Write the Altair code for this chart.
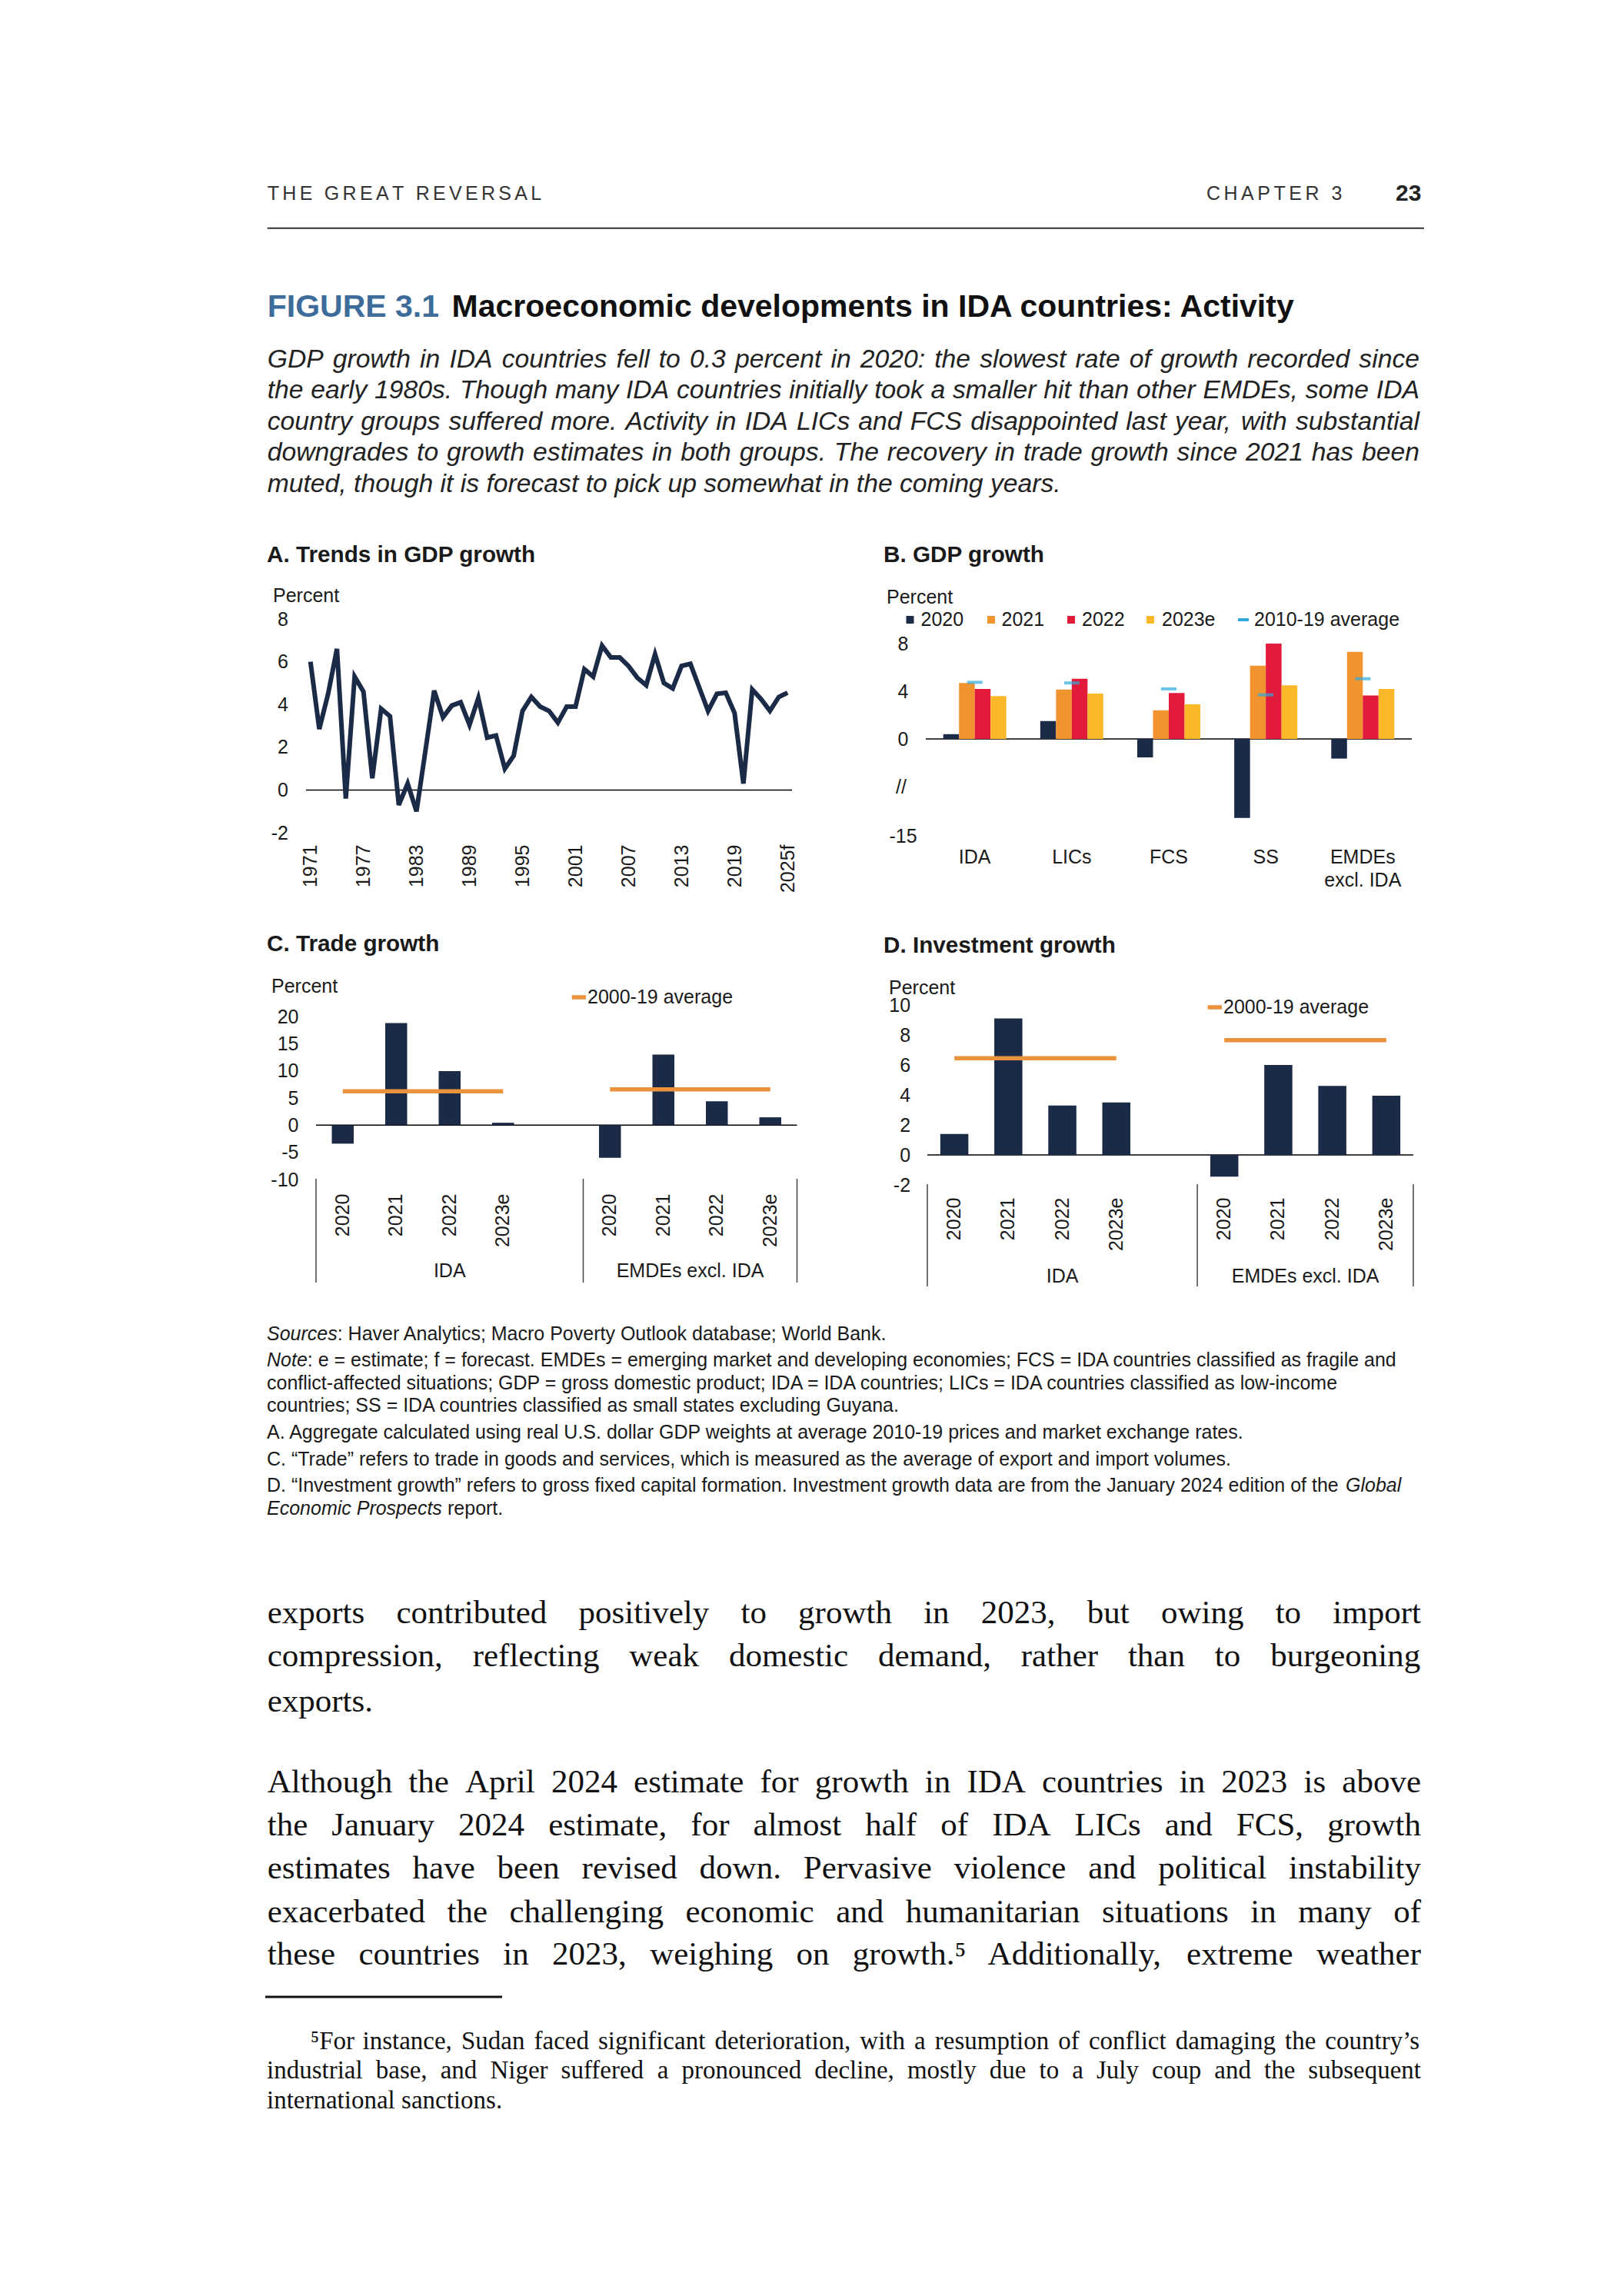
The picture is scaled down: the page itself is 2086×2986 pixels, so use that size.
import altair as alt
import pandas as pd

FONT = "Liberation Sans"
SERIF = "Liberation Serif"
NAVY = "#1b2a47"
AVG_ORANGE = "#eb923c"
CYAN = "#2fa9da"
TITLE_BLUE = "#3e6c9a"
TXT = "#1a1a1a"

# ---------------- Panel A data ----------------
years_a = [str(y) for y in range(1971, 2025)] + ["2025f"]
gdp_a = [6.0, 2.85, 4.5, 6.6, -0.4, 5.3, 4.6, 0.55, 3.8, 3.45,
         -0.7, 0.3, -1.0, 1.8, 4.65, 3.4, 3.95, 4.1, 3.05, 4.3,
         2.45, 2.55, 1.0, 1.6, 3.7, 4.35, 3.9, 3.7, 3.15, 3.9,
         3.9, 5.65, 5.3, 6.75, 6.2, 6.2, 5.8, 5.25, 4.9, 6.35,
         5.0, 4.75, 5.8, 5.9, 4.8, 3.7, 4.5, 4.55, 3.6, 0.3,
         4.7, 4.25, 3.7, 4.35, 4.55]
ticks_a = ["1971", "1977", "1983", "1989", "1995", "2001", "2007", "2013", "2019", "2025f"]
yticks_a = [-2, 0, 2, 4, 6, 8]

# ---------------- Panel B data ----------------
groups_b = ["IDA", "LICs", "FCS", "SS", "EMDEs excl. IDA"]
series_b = ["2020", "2021", "2022", "2023e"]
series_colors_b = [NAVY, "#f1932f", "#e31b3b", "#fbb829"]
gdp_2020 = [0.4, 1.5, -1.55, -13.5, -1.65]
gdp_2021 = [4.7, 4.15, 2.4, 6.15, 7.3]
gdp_2022 = [4.2, 5.05, 3.85, 8.0, 3.65]
gdp_2023e = [3.6, 3.8, 2.9, 4.5, 4.2]
avg_2010_19 = [4.75, 4.7, 4.2, 3.7, 5.05]
yticks_b = [-15, 0, 4, 8]

# ---------------- Panels C and D data ----------------
groups_cd = ["IDA", "EMDEs excl. IDA"]
years_cd = ["2020", "2021", "2022", "2023e"]
trade_ida = [-3.4, 18.8, 9.95, 0.45]
trade_emde = [-6.0, 13.0, 4.4, 1.45]
trade_avg_2000_19 = [6.25, 6.6]
inv_ida = [1.4, 9.1, 3.3, 3.5]
inv_emde = [-1.45, 6.0, 4.6, 3.95]
inv_avg_2000_19 = [6.45, 7.65]
yticks_c = [-10, -5, 0, 5, 10, 15, 20]
yticks_d = [-2, 0, 2, 4, 6, 8, 10]

# ---------------- page texts ----------------
subtitle_lines = [
    "GDP growth in IDA countries fell to 0.3 percent in 2020: the slowest rate of growth recorded since",
    "the early 1980s. Though many IDA countries initially took a smaller hit than other EMDEs, some IDA",
    "country groups suffered more. Activity in IDA LICs and FCS disappointed last year, with substantial",
    "downgrades to growth estimates in both groups. The recovery in trade growth since 2021 has been",
    "muted, though it is forecast to pick up somewhat in the coming years.",
]
subtitle_justify = [True, True, True, True, False]
body_lines = [
    "exports contributed positively to growth in 2023, but owing to import",
    "compression, reflecting weak domestic demand, rather than to burgeoning",
    "exports.",
    "Although the April 2024 estimate for growth in IDA countries in 2023 is above",
    "the January 2024 estimate, for almost half of IDA LICs and FCS, growth",
    "estimates have been revised down. Pervasive violence and political instability",
    "exacerbated the challenging economic and humanitarian situations in many of",
    "these countries in 2023, weighing on growth.\u2075 Additionally, extreme weather",
]
body_justify = [True, True, False, True, True, True, True, True]
footnote_lines = [
    "\u2075For instance, Sudan faced significant deterioration, with a resumption of conflict damaging the country\u2019s",
    "industrial base, and Niger suffered a pronounced decline, mostly due to a July coup and the subsequent",
    "international sanctions.",
]
footnote_justify = [True, True, False]

# ---------------- font metrics (Arial / Times compatible, per 1000 em) ----------------
SANS_W = {}
for chars, w in [("ABEKPSVXY", 667), ("CDHNRUw", 722), ("GOQ", 778), ("FTZ", 611),
                 ("I ft!,./:;", 278), ("Jckvxyzs", 500), ("Labdeghnopqu0123456789", 556),
                 ("Mm", 833), ("W", 944), ("ijl", 222), ("r-()", 333)]:
    for c in chars:
        SANS_W[c] = w
SERIF_W = {}
for chars, w in [("ADGHKNOQUVXYw", 722), ("BCR", 667), ("ELTZ", 611), ("FPS", 556),
                 ("Ifr-()\u2019!", 333), ("Js", 389), ("M", 889), ("W", 944), ("acez", 444),
                 ("bdghknopquvxy0123456789", 500), ("ijlt:;", 278), ("m", 778), (" ,.", 250),
                 ("\u2075", 300)]:
    for c in chars:
        SERIF_W[c] = w


def tw(s, table, size):
    return sum(table.get(c, 520) for c in s) * size / 1000.0


one = pd.DataFrame({"k": [0]})


def txt(s, x, y, size=25, weight="normal", style="normal", color=TXT, font=FONT,
        align="left", baseline="middle"):
    return alt.Chart(pd.DataFrame({"t": [s]})).mark_text(
        align=align, baseline=baseline, fontSize=size, fontWeight=weight,
        fontStyle=style, color=color, font=font
    ).encode(x=alt.value(x), y=alt.value(y), text=alt.Text("t:N"))


def text_block(lines, xs, ys, right, justify, size, table, font, style="normal",
               color="#111"):
    """Justified paragraph: one text item per word."""
    rows = []
    for line, x0, y, just in zip(lines, xs, ys, justify):
        words = line.split(" ")
        ww = [tw(w, table, size) for w in words]
        if just and len(words) > 1:
            gap = (right - x0 - sum(ww)) / (len(words) - 1)
        else:
            gap = table[" "] * size / 1000.0
        x = x0
        for w, wd in zip(words, ww):
            rows.append({"w": w, "x": x, "y": y})
            x += wd + gap
    return alt.Chart(pd.DataFrame(rows)).mark_text(
        align="left", baseline="middle", font=font, fontSize=size, fontStyle=style,
        color=color
    ).encode(x=alt.X("x:Q", scale=None, axis=None), y=alt.Y("y:Q", scale=None, axis=None),
             text="w:N")


def spaced(s, x0, y, size, spacing, color):
    """Letter-spaced caps (running head)."""
    rows, x = [], x0
    for c in s:
        rows.append({"c": c, "x": x, "y": y})
        x += tw(c, SANS_W, size) + spacing
    return alt.Chart(pd.DataFrame(rows)).mark_text(
        align="left", baseline="middle", font=FONT, fontSize=size, color=color
    ).encode(x=alt.X("x:Q", scale=None, axis=None), y=alt.Y("y:Q", scale=None, axis=None),
             text="c:N")


def box(x0, x1, y0, y1):
    return alt.Chart(one).mark_rect(opacity=0).encode(
        x=alt.value(x0), x2=alt.value(x1), y=alt.value(y0), y2=alt.value(y1))


def hline(x0, x1, y, w, color):
    return alt.Chart(one).mark_rule(strokeWidth=w, color=color).encode(
        x=alt.value(x0), x2=alt.value(x1), y=alt.value(y))


def yaxis(values, pad, align="right"):
    return alt.Axis(values=values, title=None, domain=False, ticks=False, tickSize=0,
                    grid=False, labelPadding=pad, labelAlign=align, labelFont=FONT,
                    labelFontSize=25, labelColor=TXT,
                    labelExpr="replace(datum.label, '\u2212', '-')")


# Column origin of the whole page = left edge of panel A plot (page x 398).
# ================= Panel A =================
dfA = pd.DataFrame({"year": years_a, "gdp": gdp_a})
scaleYA = alt.Scale(domain=[-2, 8], nice=False, zero=False)
yaxisA = yaxis(yticks_a, 23.5)
lineA = alt.Chart(dfA).mark_line(color=NAVY, strokeWidth=6).encode(
    x=alt.X("year:O", sort=years_a, scale=alt.Scale(type="point", padding=0.5),
            axis=alt.Axis(values=ticks_a, labelAngle=270, labelPadding=15, domain=False,
                          ticks=False, tickSize=0, grid=False, title=None, labelFont=FONT,
                          labelFontSize=25, labelColor=TXT)),
    y=alt.Y("gdp:Q", scale=scaleYA, axis=yaxisA),
)
zeroA = alt.Chart(one).mark_rule(color="#000", strokeWidth=1.5).encode(
    y=alt.YDatum(0, scale=scaleYA, axis=yaxisA))
panelA = alt.layer(
    box(-390, 697, -105, 395),
    txt("A. Trends in GDP growth", -51, -83, 29.7, "bold"),
    txt("Percent", -43, -30, 25),
    zeroA, lineA,
).properties(width=632, height=278)

# ================= Panel B =================
rowsB = []
for gi, g in enumerate(groups_b):
    for s, vals in zip(series_b, [gdp_2020, gdp_2021, gdp_2022, gdp_2023e]):
        rowsB.append({"group": g, "series": s, "v": vals[gi]})
dfB = pd.DataFrame(rowsB)
dfAvgB = pd.DataFrame({"group": groups_b, "avg": avg_2010_19})

HB = 282
# broken axis: values between -11 and -4 are collapsed onto the "//" mark
scaleYB = alt.Scale(domain=[-15, -11, -4, 8], range=[HB, 220, 218, 32], nice=False)
yaxisB = yaxis(yticks_b, 30, "center")
scaleXB = alt.Scale(domain=groups_b, paddingInner=0.35, paddingOuter=0.18)
xaxisB = alt.Axis(title=None, labelAngle=0, domain=False, ticks=False, tickSize=0,
                  labelPadding=15, labelFont=FONT, labelFontSize=25, labelColor=TXT,
                  labelLineHeight=30,
                  labelExpr="datum.label == 'EMDEs excl. IDA' ? ['EMDEs', 'excl. IDA'] : datum.label")
barsB = alt.Chart(dfB).mark_bar().encode(
    x=alt.X("group:N", sort=groups_b, scale=scaleXB, axis=xaxisB),
    xOffset=alt.XOffset("series:N", sort=series_b,
                        scale=alt.Scale(domain=series_b, paddingInner=0, paddingOuter=0)),
    y=alt.Y("v:Q", scale=scaleYB, axis=yaxisB),
    color=alt.Color("series:N", scale=alt.Scale(domain=series_b, range=series_colors_b),
                    legend=None),
)
avgB = alt.Chart(dfAvgB).mark_tick(color=CYAN, thickness=4, size=20).encode(
    x=alt.X("group:N", sort=groups_b, scale=scaleXB, axis=xaxisB),
    y=alt.Y("avg:Q", scale=scaleYB, axis=yaxisB),
)
zeroB = alt.Chart(one).mark_rule(color="#000", strokeWidth=1.5).encode(
    y=alt.YDatum(0, scale=scaleYB, axis=yaxisB))

leg_sq_x = [-20.5, 85, 189, 292]
leg_tx_x = [-6.5, 98.5, 203, 307]
legB = []
for i, s in enumerate(series_b):
    legB.append(alt.Chart(one).mark_square(size=100, color=series_colors_b[i], opacity=1).encode(
        x=alt.value(leg_sq_x[i]), y=alt.value(1)))
    legB.append(txt(s, leg_tx_x[i], 1, 25))
legB.append(hline(406, 420, 1, 4, CYAN))
legB.append(txt("2010-19 average", 427, 1, 25))

panelB = alt.layer(
    box(-109, 866, -105, 395),
    txt("B. GDP growth", -55, -83, 29.7, "bold"),
    txt("Percent", -51, -28, 25),
    txt("//", -32, 219, 25, align="center"),
    *legB,
    zeroB, barsB, avgB,
).properties(width=632, height=HB)


# ================= Panels C & D =================
def group_panel(ida_vals, emde_vals, avgs, width, height, x_range, y_range, ydom, yvals,
                pad_inner, ylab_pad, xlab_pad, bx, title, title_xy, pct_xy, leg_dash,
                leg_text_x, sep_y, glab_y):
    keys, rows, bounds = [], [], [0]
    for g, vals in zip(groups_cd, [ida_vals, emde_vals]):
        for yr, v in zip(years_cd, vals):
            keys.append(g + "|" + yr)
            rows.append({"key": g + "|" + yr, "v": v})
        if g != groups_cd[-1]:
            keys.append(g + "|")
        bounds.append(len(keys))
    df = pd.DataFrame(rows)
    dfavg = pd.DataFrame({"k1": [g + "|" + years_cd[0] for g in groups_cd],
                          "k2": [g + "|" + years_cd[-1] for g in groups_cd],
                          "avg": avgs})
    dfsep = pd.DataFrame({"s": bounds})
    dfglab = pd.DataFrame({"m": [(bounds[i] + bounds[i + 1]) / 2 for i in range(len(groups_cd))],
                           "g": groups_cd})
    scaleX = alt.Scale(domain=keys, range=x_range, paddingInner=pad_inner,
                       paddingOuter=pad_inner / 2)
    scaleY = alt.Scale(domain=ydom, range=y_range, nice=False)
    yax = yaxis(yvals, ylab_pad)
    scaleSlot = alt.Scale(domain=[0, len(keys)], range=x_range, nice=False, zero=False)
    bars = alt.Chart(df).mark_bar(color=NAVY).encode(
        x=alt.X("key:N", sort=keys, scale=scaleX,
                axis=alt.Axis(title=None, labelAngle=270, labelPadding=xlab_pad, domain=False,
                              ticks=False, tickSize=0, labelFont=FONT, labelFontSize=25,
                              labelColor=TXT, labelExpr="split(datum.label, '|')[1]")),
        y=alt.Y("v:Q", scale=scaleY, axis=yax),
    )
    avg = alt.Chart(dfavg).mark_rule(color=AVG_ORANGE, strokeWidth=5.5, strokeCap="butt").encode(
        x=alt.X("k1:N", sort=keys, scale=scaleX, axis=None),
        x2="k2:N",
        y=alt.Y("avg:Q", scale=scaleY, axis=yax),
    )
    zero = alt.Chart(one).mark_rule(color="#000", strokeWidth=1.5).encode(
        x=alt.value(x_range[0]), x2=alt.value(x_range[1]),
        y=alt.YDatum(0, scale=scaleY, axis=yax))
    seps = alt.Chart(dfsep).mark_rule(color="#444", strokeWidth=1.5).encode(
        x=alt.X("s:Q", scale=scaleSlot, axis=None),
        y=alt.value(sep_y[0]), y2=alt.value(sep_y[1]))
    glab = alt.Chart(dfglab).mark_text(font=FONT, fontSize=25, color=TXT, align="center",
                                       baseline="middle").encode(
        x=alt.X("m:Q", scale=scaleSlot, axis=None), y=alt.value(glab_y), text="g:N")
    return alt.layer(
        box(*bx),
        txt(title, title_xy[0], title_xy[1], 29.7, "bold"),
        txt("Percent", pct_xy[0], pct_xy[1], 25),
        hline(leg_dash[0], leg_dash[1], leg_dash[2], 5.5, AVG_ORANGE),
        txt("2000-19 average", leg_text_x, leg_dash[2], 25),
        zero, bars, avg, seps, glab,
    ).resolve_scale(x="independent").properties(width=width, height=height)


panelC = group_panel(trade_ida, trade_emde, trade_avg_2000_19, 638.5, 227, [13, 638.5], [227, 15],
                     [-10, 20], yticks_c, 0.59, 10, 18, (-390, 697, -107, 393),
                     "C. Trade growth", (-51, -79), (-45, -24), (345.7, 364, -10), 366,
                     (226, 361), 346)
panelD = group_panel(inv_ida, inv_emde, inv_avg_2000_19, 632, 234, [0, 632], [234, 0],
                     [-2, 10], yticks_d, 0.48, 22.4, 16, (-111, 864, -107, 393),
                     "D. Investment growth", (-57, -77), (-50, -22), (364.6, 383, 3), 385,
                     (233, 366), 353)

# ================= Header / title row (origin: page x 398, y 8) =================
LEFT = -50.3
RIGHT = 1450
sub_y = [460, 500, 541, 581, 622]
row0_layers = [
    box(-390, 1672, 0, 692),
    spaced("THE GREAT REVERSAL", LEFT, 244, 25, 4.3, "#333"),
    spaced("CHAPTER 3", 1171, 244, 25, 4.5, "#333"),
    txt("23", 1417, 244, 30, "bold", color="#222"),
    hline(LEFT, 1454, 288.7, 2, "#333"),
    txt("FIGURE 3.1", LEFT, 392, 41, "bold", color=TITLE_BLUE),
    txt("Macroeconomic developments in IDA countries: Activity", 189.6, 392, 41, "bold",
        color="#111"),
    text_block(subtitle_lines, [LEFT] * 5, sub_y, RIGHT - 2, subtitle_justify, 33.7, SANS_W,
               FONT, "italic", "#222"),
]
row0 = alt.layer(*row0_layers).properties(width=1200, height=692)

# ================= Notes / body row (origin: page x 398, y 1700) =================
ny = [35, 69, 99, 128, 163, 198, 232, 262]
NX = -51
row3_layers = [
    box(-390, 1672, 0, 1270),
    txt("Sources", NX, ny[0], 25, style="italic"),
    txt(": Haver Analytics; Macro Poverty Outlook database; World Bank.", NX + 91.7, ny[0], 25),
    txt("Note", NX, ny[1], 25, style="italic"),
    txt(": e = estimate; f = forecast. EMDEs = emerging market and developing economies; FCS = IDA countries classified as fragile and", NX + 52.8, ny[1], 25),
    txt("conflict-affected situations; GDP = gross domestic product; IDA = IDA countries; LICs = IDA countries classified as low-income", NX, ny[2], 25),
    txt("countries; SS = IDA countries classified as small states excluding Guyana.", NX, ny[3], 25),
    txt("A. Aggregate calculated using real U.S. dollar GDP weights at average 2010-19 prices and market exchange rates.", NX, ny[4], 25),
    txt("C. \u201cTrade\u201d refers to trade in goods and services, which is measured as the average of export and import volumes.", NX, ny[5], 25),
    txt("D. \u201cInvestment growth\u201d refers to gross fixed capital formation. Investment growth data are from the January 2024 edition of the", NX, ny[6], 25),
    txt("Global", 1352, ny[6], 25, style="italic"),
    txt("Economic Prospects", NX, ny[7], 25, style="italic"),
    txt("report.", 184, ny[7], 25),
    text_block(body_lines, [LEFT] * 8, [398, 454, 513, 618, 674, 730, 787, 842], RIGHT,
               body_justify, 43, SERIF_W, SERIF),
    hline(-53, 255, 897, 3, "#111"),
    text_block(footnote_lines, [5.7, NX, NX], [955, 993, 1032], RIGHT, footnote_justify, 33,
               SERIF_W, SERIF),
]
row3 = alt.layer(*row3_layers).properties(width=1200, height=1270)

row1 = alt.hconcat(panelA, panelB, spacing=0)
row2 = alt.hconcat(panelC, panelD, spacing=0)

chart = alt.vconcat(row0, row1, row2, row3, spacing=0).properties(
    padding=0, background="white"
).configure_view(strokeWidth=0).configure_concat(spacing=0)

chart.save("out.html", embed_options={"renderer": "svg", "actions": False})
